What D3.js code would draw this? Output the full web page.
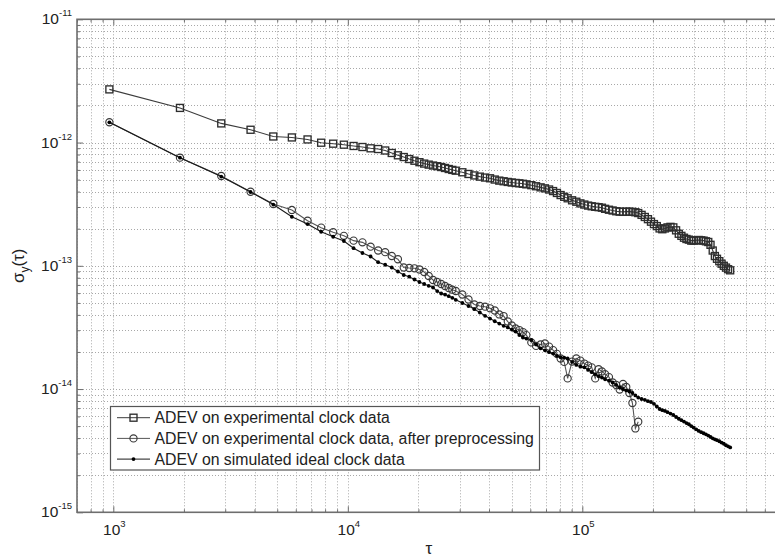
<!DOCTYPE html>
<html>
<head>
<meta charset="utf-8">
<script src="https://cdn.jsdelivr.net/npm/d3@7/dist/d3.min.js"></script>
<style>
  body { margin: 0; background: #fff; }
  svg { display: block; font-family: "Liberation Sans", Arial, sans-serif; }
</style>
</head>
<body>
<div id="chart"></div>
<script>
/* global d3 */

// averaging factor m, tau = m * tau0 (seconds)
const tau0 = 962
const avgFactor = [1,2,3,4,5,6,7,8,9,10,11,12,13,14,15,16,17,18,19,20,
  21,22,23,24,25,26,27,28,29,30,32,34,36,38,40,
  42,44,46,48,50,52,54,56,58,60,63,66,69,72,75,78,81,84,87,90,
  94,98,102,106,110,114,118,122,126,130,135,140,145,150,155,160,165,170,175,180,
  186,192,198,204,210,216,222,228,234,240,247,254,261,268,275,282,289,296,303,310,
  318,326,334,342,350,358,366,374,382,390,399,408,417,426,435,444]

// ADEV values, in units of 1e-12
const SIGMA_UNIT = 1e-12
const adevRaw = [2.70,1.91,1.43,1.27,1.12,1.10,1.06,0.997,0.979,0.961,
  0.938,0.920,0.898,0.886,0.862,0.823,0.788,0.763,0.735,0.712,
  0.693,0.675,0.662,0.651,0.643,0.633,0.622,0.610,0.600,0.591,
  0.574,0.556,0.541,0.529,0.520,
  0.513,0.501,0.491,0.485,0.479,0.474,0.470,0.467,0.463,0.458,
  0.451,0.442,0.433,0.425,0.416,0.404,0.390,0.375,0.363,0.353,
  0.340,0.331,0.321,0.314,0.308,0.304,0.301,0.299,0.296,0.290,
  0.285,0.281,0.277,0.275,0.274,0.275,0.275,0.274,0.272,0.268,
  0.259,0.249,0.239,0.228,0.218,0.210,0.201,0.198,0.201,0.205,
  0.207,0.205,0.194,0.182,0.175,0.169,0.165,0.163,0.160,0.160,
  0.161,0.162,0.161,0.160,0.158,0.156,0.148,0.133,0.120,0.114,
  0.109,0.104,0.100,0.0967,0.0938,0.0919]

const adevPre = [1.46,0.754,0.535,0.399,0.317,0.284,0.232,0.204,0.187,0.175,
  0.160,0.155,0.143,0.133,0.129,0.120,0.113,0.0969,0.0960,0.0954,
  0.0933,0.0891,0.0827,0.0767,0.0739,0.0712,0.0686,0.0661,0.0640,0.0624,
  0.0585,0.0533,0.0485,0.0472,0.0466,
  0.0452,0.0434,0.0403,0.0391,0.0353,0.0328,0.0310,0.0301,0.0290,0.0274,
  0.0239,0.0224,0.0230,0.0234,0.0221,0.0207,0.0193,0.0177,0.0166,0.0122,
  0.0167,0.0177,0.0170,0.0161,0.0155,0.0150,0.0122,0.0145,0.0139,0.0132,
  0.0125,0.0113,0.0108,0.00992,0.0110,0.0104,0.00929,0.00770,0.00479,0.00543]

const adevSim = [1.46,0.754,0.530,0.397,0.314,0.250,0.218,0.189,0.172,0.159,
  0.139,0.127,0.119,0.107,0.102,0.0969,0.0899,0.0842,0.0816,0.0774,
  0.0739,0.0712,0.0688,0.0667,0.0624,0.0596,0.0584,0.0567,0.0550,0.0530,
  0.0499,0.0472,0.0445,0.0418,0.0393,
  0.0373,0.0355,0.0340,0.0326,0.0316,0.0304,0.0293,0.0274,0.0262,0.0257,
  0.0250,0.0230,0.0214,0.0206,0.0199,0.0194,0.0186,0.0181,0.0180,0.0177,
  0.0166,0.0157,0.0152,0.0150,0.0143,0.0137,0.0132,0.0127,0.0124,0.0120,
  0.0117,0.0113,0.0108,0.0103,0.00997,0.00975,0.00955,0.00929,0.00888,0.00852,
  0.00830,0.00818,0.00797,0.00785,0.00759,0.00722,0.00689,0.00674,0.00665,0.00649,
  0.00633,0.00616,0.00593,0.00574,0.00559,0.00545,0.00530,0.00518,0.00501,0.00487,
  0.00471,0.00457,0.00447,0.00438,0.00429,0.00419,0.00409,0.00398,0.00391,0.00385,
  0.00377,0.00368,0.00360,0.00350,0.00343,0.00336]

const seriesNames = [
  'ADEV on experimental clock data',
  'ADEV on experimental clock data, after preprocessing',
  'ADEV on simulated ideal clock data'
]

// canvas
const width = 775,
  height = 557,
  plotLeft = 77,
  plotRight = 780.5,
  plotTop = 19.3,
  plotBottom = 512.3

const svg = d3.select('#chart')
  .append('svg')
  .attr('width', width)
  .attr('height', height)

const x = d3.scaleLog().domain([700, 7e5]).range([plotLeft, plotRight])
const y = d3.scaleLog().domain([1e-15, 1e-11]).range([plotBottom, plotTop])

const isMajor = d => Math.abs(Math.log10(d) - Math.round(Math.log10(d))) < 1e-6
const xTicks = x.ticks()
const yTicks = y.ticks()

// grid
const grid = svg.append('g')
  .attr('stroke', '#a8a8a8')
  .attr('stroke-width', 1)
  .attr('stroke-dasharray', '1,2')
grid.selectAll('.vg').data(xTicks).enter().append('line')
  .attr('x1', d => Math.round(x(d)) + 0.5).attr('x2', d => Math.round(x(d)) + 0.5)
  .attr('y1', plotTop).attr('y2', plotBottom)
grid.selectAll('.hg').data(yTicks).enter().append('line')
  .attr('y1', d => Math.round(y(d)) + 0.5).attr('y2', d => Math.round(y(d)) + 0.5)
  .attr('x1', plotLeft).attr('x2', plotRight)

// axes (ticks pointing inward)
const axisColor = '#6e6e6e'
let styleAxis = (g, dir) => {
  g.select('.domain').remove()
  g.selectAll('.tick line')
    .attr('stroke', axisColor)
    .attr(dir, function(d) { return (isMajor(d) ? 6 : 3) * Math.sign(+d3.select(this).attr(dir)) })
}
svg.append('g').attr('transform', `translate(0,${plotBottom})`)
  .call(d3.axisBottom(x).tickValues(xTicks).tickSize(-1).tickFormat(''))
  .call(g => styleAxis(g, 'y2'))
svg.append('g').attr('transform', `translate(0,${plotTop})`)
  .call(d3.axisTop(x).tickValues(xTicks).tickSize(-1).tickFormat(''))
  .call(g => styleAxis(g, 'y2'))
svg.append('g').attr('transform', `translate(${plotLeft},0)`)
  .call(d3.axisLeft(y).tickValues(yTicks).tickSize(-1).tickFormat(''))
  .call(g => styleAxis(g, 'x2'))

// box
svg.append('rect')
  .attr('x', plotLeft).attr('y', plotTop)
  .attr('width', plotRight - plotLeft).attr('height', plotBottom - plotTop)
  .attr('fill', 'none')
  .attr('stroke', axisColor)
  .attr('stroke-width', 1.6)

// tick labels 10^n
let powLabel = (sel) => {
  sel.append('tspan').text('10').attr('font-size', 15.5)
  sel.append('tspan').text(d => Math.round(Math.log10(d))).attr('font-size', 9.5).attr('dy', -8)
}
svg.selectAll('.xl').data(xTicks.filter(isMajor)).enter().append('text')
  .attr('x', d => x(d) + 1)
  .attr('y', 535)
  .attr('text-anchor', 'middle')
  .attr('fill', '#222')
  .call(powLabel)
svg.selectAll('.yl').data(yTicks.filter(isMajor)).enter().append('text')
  .attr('x', 72)
  .attr('y', d => y(d) + 5)
  .attr('text-anchor', 'end')
  .attr('fill', '#222')
  .call(powLabel)

// axis titles
svg.append('text')
  .attr('x', (plotLeft + plotRight) / 2)
  .attr('y', 554)
  .attr('text-anchor', 'middle')
  .attr('font-size', 17)
  .attr('fill', '#222')
  .text('τ')
const yt = svg.append('text')
  .attr('transform', `translate(24,${(plotTop + plotBottom) / 2}) rotate(-90)`)
  .attr('text-anchor', 'middle')
  .attr('font-size', 17)
  .attr('fill', '#222')
yt.append('tspan').text('σ')
yt.append('tspan').text('y').attr('font-size', 12).attr('dy', 5)
yt.append('tspan').text('(τ)').attr('dy', -5)

// series
const series = [
  { name: seriesNames[0], values: adevRaw, marker: 'square', line: '#3c3c3c', mark: '#2e2e2e' },
  { name: seriesNames[1], values: adevPre, marker: 'circle', line: '#555', mark: '#3a3a3a' },
  { name: seriesNames[2], values: adevSim, marker: 'dot', line: '#1a1a1a', mark: '#000' }
]
series.forEach(s => {
  s.points = s.values.map((v, i) => ({ tau: avgFactor[i] * tau0, sigma: v * SIGMA_UNIT }))
})

const line = d3.line().x(d => x(d.tau)).y(d => y(d.sigma))

let drawMarkers = (g, pts, s, cx, cy) => {
  if (s.marker === 'square') {
    g.selectAll('rect').data(pts).enter().append('rect')
      .attr('x', d => cx(d) - 3.5).attr('y', d => cy(d) - 3.5)
      .attr('width', 7).attr('height', 7)
      .attr('fill', 'none').attr('stroke', s.mark).attr('stroke-width', 1.35)
  } else if (s.marker === 'circle') {
    g.selectAll('circle').data(pts).enter().append('circle')
      .attr('cx', cx).attr('cy', cy).attr('r', 3.6)
      .attr('fill', 'none').attr('stroke', s.mark).attr('stroke-width', 1.15)
  } else {
    g.selectAll('circle').data(pts).enter().append('circle')
      .attr('cx', cx).attr('cy', cy).attr('r', 1.9)
      .attr('fill', s.mark)
  }
}

series.forEach(s => {
  const g = svg.append('g')
  g.append('path')
    .datum(s.points)
    .attr('d', line)
    .attr('fill', 'none')
    .attr('stroke', s.line)
    .attr('stroke-width', 1.1)
  drawMarkers(g, s.points, s, d => x(d.tau), d => y(d.sigma))
})

// legend
const legend = svg.append('g')
legend.append('rect')
  .attr('x', 110.5).attr('y', 406.5)
  .attr('width', 429).attr('height', 63.5)
  .attr('fill', '#fff')
  .attr('stroke', '#555')
  .attr('stroke-width', 1.2)
series.forEach((s, i) => {
  const ly = 417.7 + i * 20.7
  const g = legend.append('g')
  g.append('line')
    .attr('x1', 117).attr('x2', 150)
    .attr('y1', ly).attr('y2', ly)
    .attr('stroke', s.line).attr('stroke-width', 1)
  drawMarkers(g, [{}], s, () => 133.5, () => ly)
  g.append('text')
    .attr('x', 154.5).attr('y', ly + 5.5)
    .attr('font-size', 15.8)
    .attr('fill', '#222')
    .text(s.name)
})
</script>
</body>
</html>
